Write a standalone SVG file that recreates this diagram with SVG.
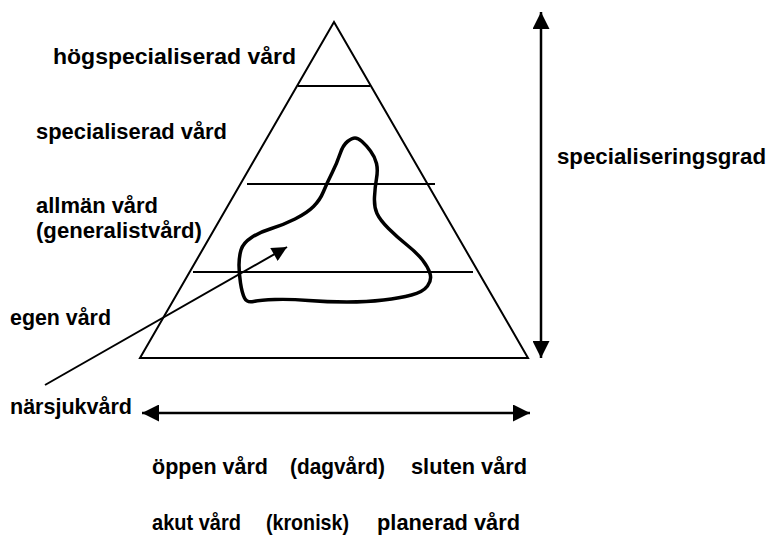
<svg xmlns="http://www.w3.org/2000/svg" width="769" height="538" viewBox="0 0 769 538">
<defs>
<style>
.t{font-family:"Liberation Sans",Arial,sans-serif;font-weight:bold;font-size:22px;fill:#000}
.b{font-size:21.5px}
.ln{stroke:#000;stroke-width:2;fill:none}
.ar{stroke:#000;stroke-width:2.5;fill:none}
</style>
<marker id="ah" viewBox="0 0 10 10" refX="10" refY="5" markerUnits="userSpaceOnUse" markerWidth="18" markerHeight="17" orient="auto-start-reverse">
<path d="M0,0 L10,5 L0,10 Z" fill="#000"/>
</marker>
<marker id="ah2" viewBox="0 0 10 10" refX="10" refY="5" markerUnits="userSpaceOnUse" markerWidth="17" markerHeight="15" orient="auto">
<path d="M0,0 L10,5 L0,10 Z" fill="#000"/>
</marker>
</defs>
<rect width="769" height="538" fill="#fff"/>
<g id="pyramid">
<path class="ln" d="M334,22 L140,358 L528,358 Z"/>
<line class="ln" x1="298" y1="86" x2="370" y2="86"/>
<line class="ln" x1="247" y1="184" x2="435" y2="184"/>
<line class="ln" x1="193" y1="272" x2="473" y2="272"/>
</g>
<g id="blob">
<path d="M355,138 Q358,138 362,141.5 Q366,145 370.5,151 Q375,157 376.5,163.5 Q378,170 376.5,178.5 Q375,187 374.5,197 Q374,207 377,213.5 Q380,220 388.5,228.5 Q397,237 407,245 Q417,253 422.5,260 Q428,267 430,273.5 Q432,280 427.5,286 Q423,292 411.5,295 Q400,298 383.5,300 Q367,302 347,302 Q327,302 308.5,300.5 Q290,299 275,299.5 Q260,300 253.5,301.5 Q247,303 244.5,298 Q242,293 240.5,283 Q239,273 239,265 Q239,257 241,250 Q243,243 251.5,237.5 Q260,232 271.5,228.5 Q283,225 295,219 Q307,213 313.5,206.5 Q320,200 323.5,191.5 Q327,183 332,173 Q337,163 340,154 Q343,145 347.5,141.5 Q352,138 355,138 Z" fill="none" stroke="#000" stroke-width="3.5" stroke-linejoin="round"/>
</g>
<g id="labels-left">
<text class="t" x="53" y="64" textLength="243" lengthAdjust="spacingAndGlyphs">högspecialiserad vård</text>
<text class="t" x="36" y="139" textLength="191" lengthAdjust="spacingAndGlyphs">specialiserad vård</text>
<text class="t" x="36" y="213" textLength="122" lengthAdjust="spacingAndGlyphs">allmän vård</text>
<text class="t" x="36" y="238" textLength="166" lengthAdjust="spacingAndGlyphs">(generalistvård)</text>
<text class="t" x="10" y="325" textLength="101" lengthAdjust="spacingAndGlyphs">egen vård</text>
<text class="t" x="10" y="414" textLength="122" lengthAdjust="spacingAndGlyphs">närsjukvård</text>
</g>
<g id="label-right">
<text class="t" x="557" y="164" textLength="209" lengthAdjust="spacingAndGlyphs">specialiseringsgrad</text>
</g>
<g id="labels-bottom">
<text class="t b" x="152" y="474" textLength="116" lengthAdjust="spacingAndGlyphs">öppen vård</text>
<text class="t b" x="290" y="474" textLength="95" lengthAdjust="spacingAndGlyphs">(dagvård)</text>
<text class="t b" x="411" y="474" textLength="116" lengthAdjust="spacingAndGlyphs">sluten vård</text>
<text class="t b" x="152" y="530" textLength="89" lengthAdjust="spacingAndGlyphs">akut vård</text>
<text class="t b" x="266" y="530" textLength="83" lengthAdjust="spacingAndGlyphs">(kronisk)</text>
<text class="t b" x="377" y="530" textLength="143" lengthAdjust="spacingAndGlyphs">planerad vård</text>
</g>
<g id="connectors">
<line class="ar" x1="541" y1="12" x2="541" y2="358" marker-start="url(#ah)" marker-end="url(#ah)"/>
<line class="ar" x1="142" y1="413" x2="530" y2="413" marker-start="url(#ah)" marker-end="url(#ah)"/>
<line stroke="#000" stroke-width="2" x1="45" y1="385" x2="287" y2="247" marker-end="url(#ah2)"/>
</g>
</svg>
